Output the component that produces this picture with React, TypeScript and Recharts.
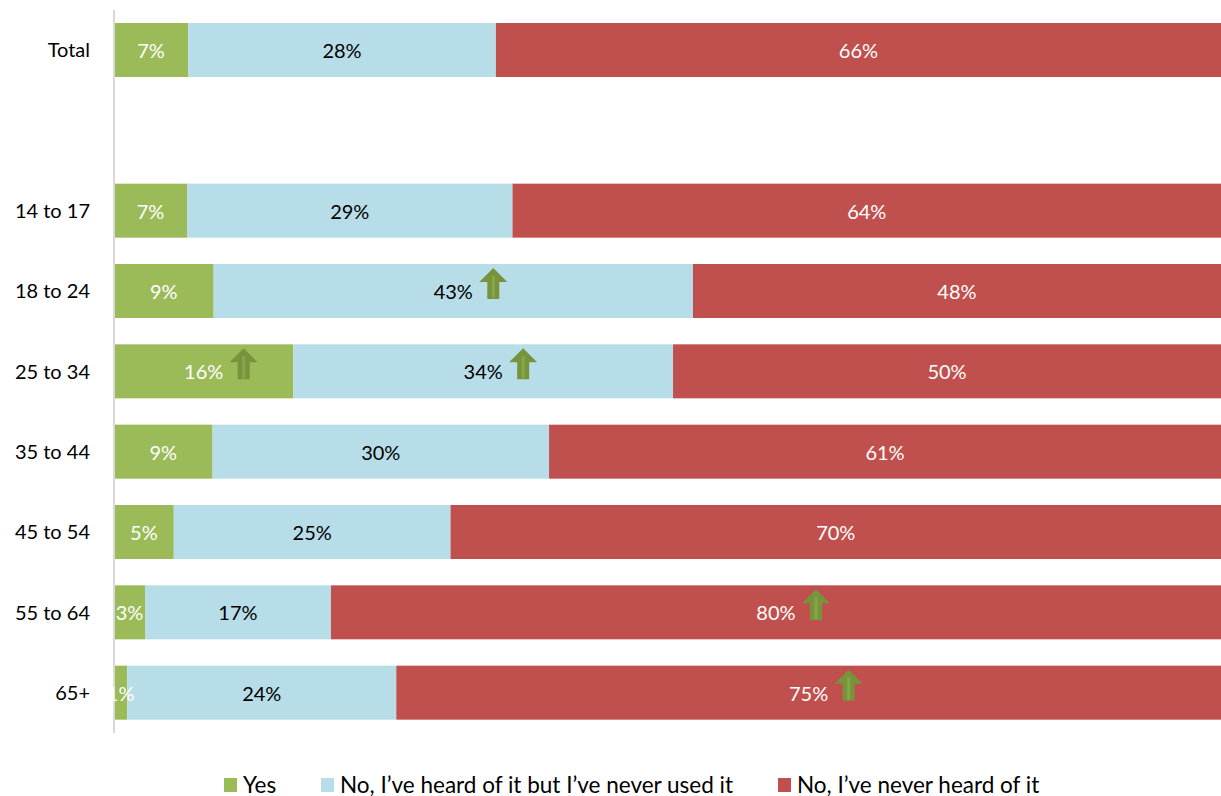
import React from 'react';
import { BarChart, Bar, XAxis, YAxis, LabelList } from 'recharts';

const categories = ['Total', '', '14 to 17', '18 to 24', '25 to 34', '35 to 44', '45 to 54', '55 to 64', '65+'];
// the second row is an empty spacer row
const yesValues = [6.7, 0, 6.6, 9.0, 16.2, 8.9, 5.4, 2.8, 1.2];
const heardValues = [27.8, 0, 29.4, 43.3, 34.3, 30.4, 25.0, 16.8, 24.3];
const neverValues = [65.5, 0, 64.0, 47.7, 49.5, 60.7, 69.6, 80.4, 74.5];
// rows with a significant-increase arrow, per series
const yesUp = [false, false, false, false, true, false, false, false, false];
const heardUp = [false, false, false, true, true, false, false, false, false];
const neverUp = [false, false, false, false, false, false, false, true, true];

const FONT = 'Lato, "Open Sans", sans-serif';
const GREEN = '#9bbb59';
const BLUE = '#b7dde8';
const RED = '#c0504d';

const data = categories.map((name, i) => ({
  name,
  row: i,
  yes: yesValues[i],
  heard: heardValues[i],
  never: neverValues[i],
}));

const UpArrow = ({ x, y }: { x: number; y: number }) => (
  <g>
    <polygon
      points={`${x + 14},${y} ${x + 28},${y + 14} ${x + 20},${y + 14} ${x + 20},${y + 31} ${x + 8},${y + 31} ${x + 8},${y + 14} ${x},${y + 14}`}
      fill="#77933c"
    />
    <rect x={x + 12.5} y={y + 8} width={3} height={22} fill="#86a64a" />
  </g>
);

// bar segment plus its optional arrow (arrow sits right of the centred label)
const makeShape = (arrows: boolean[]) => (props: any) => {
  const { x, y, width, height, fill, payload } = props;
  if (!width || width <= 0) return <g />;
  const cx = x + width / 2;
  const cy = y + height / 2;
  return (
    <g>
      <rect x={x} y={y} width={width} height={height} fill={fill} />
      {payload && arrows[payload.row] && <UpArrow x={cx + 26} y={cy - 23} />}
    </g>
  );
};

const makeLabel = (color: string) => (props: any) => {
  const { x, y, width, height, value } = props;
  if (!value) return null;
  const cx = Number(x) + Number(width) / 2;
  const cy = Number(y) + Number(height) / 2;
  return (
    <text x={cx} y={cy} fill={color} fontSize={20} fontFamily={FONT} textAnchor="middle" dominantBaseline="central">
      {`${Math.round(value)}%`}
    </text>
  );
};

const legendItems = [
  { label: 'Yes', color: GREEN, left: 224 },
  { label: 'No, I\u2019ve heard of it but I\u2019ve never used it', color: BLUE, left: 321 },
  { label: 'No, I\u2019ve never heard of it', color: RED, left: 778 },
];

export default function App() {
  return (
    <div style={{ position: 'absolute', left: 0, top: 0, width: 1221, height: 796, background: '#fff' }}>
      <BarChart
        layout="vertical"
        width={1221}
        height={796}
        data={data}
        margin={{ top: 10, right: 0, left: 0, bottom: 63 }}
        barSize={54}
      >
        <XAxis type="number" domain={[0, 100]} hide />
        <YAxis
          type="category"
          dataKey="name"
          width={114}
          tickLine={false}
          axisLine={{ stroke: '#d9d9d9', strokeWidth: 2 }}
          tickMargin={18}
          tick={{ fontSize: 20, fontFamily: FONT, fill: '#000' }}
        />
        <Bar dataKey="yes" stackId="a" fill={GREEN} shape={makeShape(yesUp)} isAnimationActive={false}>
          <LabelList dataKey="yes" content={makeLabel('#fff')} />
        </Bar>
        <Bar dataKey="heard" stackId="a" fill={BLUE} shape={makeShape(heardUp)} isAnimationActive={false}>
          <LabelList dataKey="heard" content={makeLabel('#000')} />
        </Bar>
        <Bar dataKey="never" stackId="a" fill={RED} shape={makeShape(neverUp)} isAnimationActive={false}>
          <LabelList dataKey="never" content={makeLabel('#fff')} />
        </Bar>
      </BarChart>
      {legendItems.map((item) => (
        <div
          key={item.label}
          style={{
            position: 'absolute',
            left: item.left,
            top: 770,
            display: 'flex',
            alignItems: 'center',
            fontFamily: FONT,
            fontSize: 22.5,
            lineHeight: '30px',
            color: '#000',
            whiteSpace: 'nowrap',
          }}
        >
          <span style={{ display: 'inline-block', width: 13, height: 14, background: item.color, marginRight: 6 }} />
          {item.label}
        </div>
      ))}
    </div>
  );
}
